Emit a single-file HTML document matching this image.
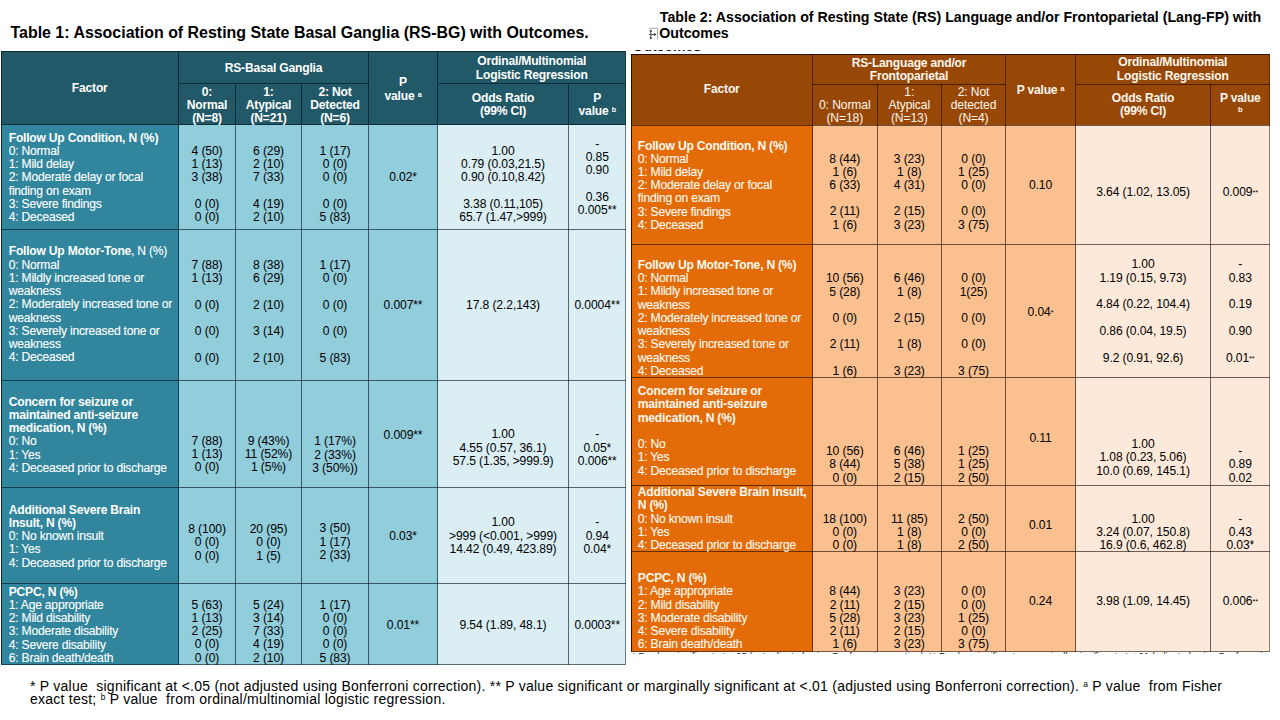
<!DOCTYPE html>
<html><head><meta charset="utf-8"><title>Tables</title>
<style>
html,body{margin:0;padding:0;background:#fff;}
body{width:1280px;height:720px;position:relative;overflow:hidden;font-family:"Liberation Sans",Arial,sans-serif;}
.r{position:absolute;box-sizing:border-box;}
.t{position:absolute;white-space:nowrap;}
.f{-webkit-text-stroke:0.12px currentColor;}
.f b{-webkit-text-stroke:0;}
.t.foot{white-space:normal;}
sup{font-size:0.6em;line-height:0;vertical-align:0.45em;}
sup.bs{vertical-align:0;font-size:0.62em;}
sup.fs{font-size:0.6em;vertical-align:0.5em;}
.sm{font-size:0.6em;vertical-align:0.2em;}
</style></head><body>
<div class="r" style="left:1px;top:51px;width:625px;height:73.5px;background:#215968"></div>
<div class="r" style="left:1px;top:124.5px;width:177.5px;height:540.5px;background:#31859C"></div>
<div class="r" style="left:178.5px;top:124.5px;width:259.0px;height:540.5px;background:#92CDDC"></div>
<div class="r" style="left:437.5px;top:124.5px;width:188.5px;height:540.5px;background:#DBEEF3"></div>
<div class="r" style="left:1px;top:124.0px;width:625px;height:1px;background:rgba(0,18,30,0.62)"></div>
<div class="r" style="left:1px;top:228.5px;width:625px;height:1px;background:rgba(0,18,30,0.62)"></div>
<div class="r" style="left:1px;top:380.0px;width:625px;height:1px;background:rgba(0,18,30,0.62)"></div>
<div class="r" style="left:1px;top:487.0px;width:625px;height:1px;background:rgba(0,18,30,0.62)"></div>
<div class="r" style="left:1px;top:583.0px;width:625px;height:1px;background:rgba(0,18,30,0.62)"></div>
<div class="r" style="left:178.5px;top:83.0px;width:190.0px;height:1px;background:rgba(0,18,30,0.62)"></div>
<div class="r" style="left:437.5px;top:83.0px;width:188.5px;height:1px;background:rgba(0,18,30,0.62)"></div>
<div class="r" style="left:178.0px;top:51px;width:1px;height:614px;background:rgba(0,18,30,0.62)"></div>
<div class="r" style="left:235.0px;top:83.5px;width:1px;height:581.5px;background:rgba(0,18,30,0.62)"></div>
<div class="r" style="left:301.0px;top:83.5px;width:1px;height:581.5px;background:rgba(0,18,30,0.62)"></div>
<div class="r" style="left:368.0px;top:51px;width:1px;height:614px;background:rgba(0,18,30,0.62)"></div>
<div class="r" style="left:437.0px;top:51px;width:1px;height:614px;background:rgba(0,18,30,0.62)"></div>
<div class="r" style="left:568.0px;top:83.5px;width:1px;height:581.5px;background:rgba(0,18,30,0.62)"></div>
<div class="r" style="left:1px;top:51px;width:625px;height:614px;border:1px solid #0e2a33;border-right-color:rgba(10,30,40,0.55);border-bottom-color:rgba(10,30,40,0.62)"></div>
<div class="r" style="left:631px;top:54px;width:639px;height:71px;background:#974806"></div>
<div class="r" style="left:631px;top:125px;width:181.5px;height:527px;background:#E36C09"></div>
<div class="r" style="left:812.5px;top:125px;width:263.0px;height:527px;background:#FAC090"></div>
<div class="r" style="left:1075.5px;top:125px;width:194.5px;height:527px;background:#FDE9D9"></div>
<div class="r" style="left:631px;top:124.5px;width:639px;height:1px;background:rgba(25,8,0,0.62)"></div>
<div class="r" style="left:631px;top:244.0px;width:639px;height:1px;background:rgba(25,8,0,0.62)"></div>
<div class="r" style="left:631px;top:377.2px;width:639px;height:1px;background:rgba(25,8,0,0.62)"></div>
<div class="r" style="left:631px;top:484.8px;width:639px;height:1px;background:rgba(25,8,0,0.62)"></div>
<div class="r" style="left:631px;top:550.8px;width:639px;height:1px;background:rgba(25,8,0,0.62)"></div>
<div class="r" style="left:812.5px;top:83.5px;width:193.0px;height:1px;background:rgba(25,8,0,0.62)"></div>
<div class="r" style="left:1075.5px;top:83.5px;width:194.5px;height:1px;background:rgba(25,8,0,0.62)"></div>
<div class="r" style="left:812.0px;top:54px;width:1px;height:598px;background:rgba(25,8,0,0.62)"></div>
<div class="r" style="left:876.5px;top:84px;width:1px;height:568px;background:rgba(25,8,0,0.62)"></div>
<div class="r" style="left:941.0px;top:84px;width:1px;height:568px;background:rgba(25,8,0,0.62)"></div>
<div class="r" style="left:1005.0px;top:54px;width:1px;height:598px;background:rgba(25,8,0,0.62)"></div>
<div class="r" style="left:1075.0px;top:54px;width:1px;height:598px;background:rgba(25,8,0,0.62)"></div>
<div class="r" style="left:1210.0px;top:84px;width:1px;height:568px;background:rgba(25,8,0,0.62)"></div>
<div class="r" style="left:631px;top:54px;width:639px;height:598px;border:1px solid #2a1000;border-right-color:rgba(40,20,10,0.5);border-bottom-color:rgba(40,20,10,0.6)"></div>
<div class="t " style="left:-10.25px;width:200px;text-align:center;top:82.48px;font-size:12.1px;line-height:13.25px;color:#ffffff;font-weight:bold;letter-spacing:-0.2px;">Factor</div>
<div class="t " style="left:173.50px;width:200px;text-align:center;top:61.98px;font-size:12.1px;line-height:13.25px;color:#ffffff;font-weight:bold;letter-spacing:-0.2px;">RS-Basal Ganglia</div>
<div class="t " style="left:107.00px;width:200px;text-align:center;top:85.71px;font-size:12.1px;line-height:13px;color:#ffffff;font-weight:bold;letter-spacing:-0.2px;">0:<br>Normal<br>(N=8)</div>
<div class="t " style="left:168.50px;width:200px;text-align:center;top:85.71px;font-size:12.1px;line-height:13px;color:#ffffff;font-weight:bold;letter-spacing:-0.2px;">1:<br>Atypical<br>(N=21)</div>
<div class="t " style="left:235.00px;width:200px;text-align:center;top:85.71px;font-size:12.1px;line-height:13px;color:#ffffff;font-weight:bold;letter-spacing:-0.2px;">2: Not<br>Detected<br>(N=6)</div>
<div class="t " style="left:303.00px;width:200px;text-align:center;top:75.16px;font-size:12.1px;line-height:14.1px;color:#ffffff;font-weight:bold;letter-spacing:-0.2px;">P<br>value <sup>a</sup></div>
<div class="t " style="left:431.75px;width:200px;text-align:center;top:54.36px;font-size:12.1px;line-height:14px;color:#ffffff;font-weight:bold;letter-spacing:-0.2px;">Ordinal/Multinomial<br>Logistic Regression</div>
<div class="t " style="left:403.00px;width:200px;text-align:center;top:92.01px;font-size:12.1px;line-height:13px;color:#ffffff;font-weight:bold;letter-spacing:-0.2px;">Odds Ratio<br>(99% CI)</div>
<div class="t " style="left:497.25px;width:200px;text-align:center;top:92.01px;font-size:12.1px;line-height:13px;color:#ffffff;font-weight:bold;letter-spacing:-0.2px;">P<br>value <sup>b</sup></div>
<div class="t f" style="left:8.75px;white-space:nowrap;top:131.53px;font-size:12.1px;line-height:13.25px;color:#ffffff;letter-spacing:-0.22px;"><b>Follow Up Condition, N (%)</b><br>0: Normal<br>1: Mild delay<br>2: Moderate delay or focal<br>finding on exam<br>3: Severe findings<br>4: Deceased</div>
<div class="t " style="left:107.00px;width:200px;text-align:center;top:144.78px;font-size:12.1px;line-height:13.25px;color:#000;letter-spacing:-0.1px;">4 (50)<br>1 (13)<br>3 (38)<br><br>0 (0)<br>0 (0)</div>
<div class="t " style="left:168.50px;width:200px;text-align:center;top:144.78px;font-size:12.1px;line-height:13.25px;color:#000;letter-spacing:-0.1px;">6 (29)<br>2 (10)<br>7 (33)<br><br>4 (19)<br>2 (10)</div>
<div class="t " style="left:235.00px;width:200px;text-align:center;top:144.78px;font-size:12.1px;line-height:13.25px;color:#000;letter-spacing:-0.1px;">1 (17)<br>0 (0)<br>0 (0)<br><br>0 (0)<br>5 (83)</div>
<div class="t " style="left:303.00px;width:200px;text-align:center;top:171.28px;font-size:12.1px;line-height:13.25px;color:#000;letter-spacing:-0.1px;">0.02*</div>
<div class="t " style="left:403.00px;width:200px;text-align:center;top:144.78px;font-size:12.1px;line-height:13.25px;color:#000;letter-spacing:-0.1px;">1.00<br>0.79 (0.03,21.5)<br>0.90 (0.10,8.42)<br><br>3.38 (0.11,105)<br>65.7 (1.47,&gt;999)</div>
<div class="t " style="left:497.25px;width:200px;text-align:center;top:137.78px;font-size:12.1px;line-height:13.25px;color:#000;letter-spacing:-0.1px;">-<br>0.85<br>0.90<br><br>0.36<br>0.005**</div>
<div class="t f" style="left:8.75px;white-space:nowrap;top:245.28px;font-size:12.1px;line-height:13.25px;color:#ffffff;letter-spacing:-0.22px;"><b>Follow Up Motor-Tone</b>, N (%)<br>0: Normal<br>1: Mildly increased tone or<br>weakness<br>2: Moderately increased tone or<br>weakness<br>3: Severely increased tone or<br>weakness<br>4: Deceased</div>
<div class="t " style="left:107.00px;width:200px;text-align:center;top:259.03px;font-size:12.1px;line-height:13.25px;color:#000;letter-spacing:-0.1px;">7 (88)<br>1 (13)<br><br>0 (0)<br><br>0 (0)<br><br>0 (0)</div>
<div class="t " style="left:168.50px;width:200px;text-align:center;top:259.03px;font-size:12.1px;line-height:13.25px;color:#000;letter-spacing:-0.1px;">8 (38)<br>6 (29)<br><br>2 (10)<br><br>3 (14)<br><br>2 (10)</div>
<div class="t " style="left:235.00px;width:200px;text-align:center;top:259.03px;font-size:12.1px;line-height:13.25px;color:#000;letter-spacing:-0.1px;">1 (17)<br>0 (0)<br><br>0 (0)<br><br>0 (0)<br><br>5 (83)</div>
<div class="t " style="left:303.00px;width:200px;text-align:center;top:298.78px;font-size:12.1px;line-height:13.25px;color:#000;letter-spacing:-0.1px;">0.007**</div>
<div class="t " style="left:403.00px;width:200px;text-align:center;top:298.78px;font-size:12.1px;line-height:13.25px;color:#000;letter-spacing:-0.1px;">17.8 (2.2,143)</div>
<div class="t " style="left:497.25px;width:200px;text-align:center;top:298.78px;font-size:12.1px;line-height:13.25px;color:#000;letter-spacing:-0.1px;">0.0004**</div>
<div class="t f" style="left:8.75px;white-space:nowrap;top:395.53px;font-size:12.1px;line-height:13.25px;color:#ffffff;letter-spacing:-0.22px;"><b>Concern for seizure or</b><br><b>maintained anti-seizure</b><br><b>medication, N (%)</b><br>0: No<br>1: Yes<br>4: Deceased prior to discharge</div>
<div class="t " style="left:107.00px;width:200px;text-align:center;top:434.78px;font-size:12.1px;line-height:13.25px;color:#000;letter-spacing:-0.1px;">7 (88)<br>1 (13)<br>0 (0)</div>
<div class="t " style="left:168.50px;width:200px;text-align:center;top:434.78px;font-size:12.1px;line-height:13.25px;color:#000;letter-spacing:-0.1px;">9 (43%)<br>11 (52%)<br>1 (5%)</div>
<div class="t " style="left:235.00px;width:200px;text-align:center;top:435.48px;font-size:12.1px;line-height:13.25px;color:#000;letter-spacing:-0.1px;">1 (17%)<br>2 (33%)<br>3 (50%))</div>
<div class="t " style="left:303.00px;width:200px;text-align:center;top:428.78px;font-size:12.1px;line-height:13.25px;color:#000;letter-spacing:-0.1px;">0.009**</div>
<div class="t " style="left:403.00px;width:200px;text-align:center;top:428.28px;font-size:12.1px;line-height:13.25px;color:#000;letter-spacing:-0.1px;">1.00<br>4.55 (0.57, 36.1)<br>57.5 (1.35, &gt;999.9)</div>
<div class="t " style="left:497.25px;width:200px;text-align:center;top:428.28px;font-size:12.1px;line-height:13.25px;color:#000;letter-spacing:-0.1px;">-<br>0.05*<br>0.006**</div>
<div class="t f" style="left:8.75px;white-space:nowrap;top:503.53px;font-size:12.1px;line-height:13.25px;color:#ffffff;letter-spacing:-0.22px;"><b>Additional Severe Brain</b><br><b>Insult, N (%)</b><br>0: No known insult<br>1: Yes<br>4: Deceased prior to discharge</div>
<div class="t " style="left:107.00px;width:200px;text-align:center;top:523.03px;font-size:12.1px;line-height:13.25px;color:#000;letter-spacing:-0.1px;">8 (100)<br>0 (0)<br>0 (0)</div>
<div class="t " style="left:168.50px;width:200px;text-align:center;top:523.03px;font-size:12.1px;line-height:13.25px;color:#000;letter-spacing:-0.1px;">20 (95)<br>0 (0)<br>1 (5)</div>
<div class="t " style="left:235.00px;width:200px;text-align:center;top:522.38px;font-size:12.1px;line-height:13.25px;color:#000;letter-spacing:-0.1px;">3 (50)<br>1 (17)<br>2 (33)</div>
<div class="t " style="left:303.00px;width:200px;text-align:center;top:529.58px;font-size:12.1px;line-height:13.25px;color:#000;letter-spacing:-0.1px;">0.03*</div>
<div class="t " style="left:403.00px;width:200px;text-align:center;top:516.38px;font-size:12.1px;line-height:13.25px;color:#000;letter-spacing:-0.1px;">1.00<br>&gt;999 (&lt;0.001, &gt;999)<br>14.42 (0.49, 423.89)</div>
<div class="t " style="left:497.25px;width:200px;text-align:center;top:516.38px;font-size:12.1px;line-height:13.25px;color:#000;letter-spacing:-0.1px;">-<br>0.94<br>0.04*</div>
<div class="t f" style="left:8.75px;white-space:nowrap;top:585.53px;font-size:12.1px;line-height:13.25px;color:#ffffff;letter-spacing:-0.22px;"><b>PCPC, N (%)</b><br>1: Age appropriate<br>2: Mild disability<br>3: Moderate disability<br>4: Severe disability<br>6: Brain death/death</div>
<div class="t " style="left:107.00px;width:200px;text-align:center;top:598.53px;font-size:12.1px;line-height:13.25px;color:#000;letter-spacing:-0.1px;">5 (63)<br>1 (13)<br>2 (25)<br>0 (0)<br>0 (0)</div>
<div class="t " style="left:168.50px;width:200px;text-align:center;top:598.53px;font-size:12.1px;line-height:13.25px;color:#000;letter-spacing:-0.1px;">5 (24)<br>3 (14)<br>7 (33)<br>4 (19)<br>2 (10)</div>
<div class="t " style="left:235.00px;width:200px;text-align:center;top:598.68px;font-size:12.1px;line-height:13.25px;color:#000;letter-spacing:-0.1px;">1 (17)<br>0 (0)<br>0 (0)<br>0 (0)<br>5 (83)</div>
<div class="t " style="left:303.00px;width:200px;text-align:center;top:618.58px;font-size:12.1px;line-height:13.25px;color:#000;letter-spacing:-0.1px;">0.01**</div>
<div class="t " style="left:403.00px;width:200px;text-align:center;top:618.58px;font-size:12.1px;line-height:13.25px;color:#000;letter-spacing:-0.1px;">9.54 (1.89, 48.1)</div>
<div class="t " style="left:497.25px;width:200px;text-align:center;top:618.58px;font-size:12.1px;line-height:13.25px;color:#000;letter-spacing:-0.1px;">0.0003**</div>
<div class="t " style="left:621.75px;width:200px;text-align:center;top:83.48px;font-size:12.1px;line-height:13.25px;color:#FFF6EE;font-weight:bold;letter-spacing:-0.2px;">Factor</div>
<div class="t " style="left:809.00px;width:200px;text-align:center;top:57.16px;font-size:12.1px;line-height:12.7px;color:#FFF6EE;font-weight:bold;letter-spacing:-0.2px;">RS-Language and/or<br>Frontoparietal</div>
<div class="t " style="left:744.75px;width:200px;text-align:center;top:98.81px;font-size:12.1px;line-height:13.1px;color:#FFF6EE;letter-spacing:-0.1px;">0: Normal<br>(N=18)</div>
<div class="t " style="left:809.25px;width:200px;text-align:center;top:85.66px;font-size:12.1px;line-height:13.1px;color:#FFF6EE;letter-spacing:-0.1px;">1:<br>Atypical<br>(N=13)</div>
<div class="t " style="left:873.50px;width:200px;text-align:center;top:85.66px;font-size:12.1px;line-height:13.1px;color:#FFF6EE;letter-spacing:-0.1px;">2: Not<br>detected<br>(N=4)</div>
<div class="t " style="left:940.50px;width:200px;text-align:center;top:83.73px;font-size:12.1px;line-height:13.25px;color:#FFF6EE;font-weight:bold;letter-spacing:-0.2px;">P value <sup>a</sup></div>
<div class="t " style="left:1072.75px;width:200px;text-align:center;top:56.36px;font-size:12.1px;line-height:13.5px;color:#FFF6EE;font-weight:bold;letter-spacing:-0.2px;">Ordinal/Multinomial<br>Logistic Regression</div>
<div class="t " style="left:1043.00px;width:200px;text-align:center;top:92.01px;font-size:12.1px;line-height:13px;color:#FFF6EE;font-weight:bold;letter-spacing:-0.2px;">Odds Ratio<br>(99% CI)</div>
<div class="t " style="left:1140.25px;width:200px;text-align:center;top:92.01px;font-size:12.1px;line-height:13px;color:#FFF6EE;font-weight:bold;letter-spacing:-0.2px;">P value</div>
<div class="t " style="left:1140.25px;width:200px;text-align:center;top:101.71px;font-size:12.1px;line-height:13px;color:#FFF6EE;font-weight:bold;letter-spacing:-0.2px;"><sup class="bs">b</sup></div>
<div class="t f" style="left:637.80px;white-space:nowrap;top:139.61px;font-size:12.1px;line-height:13.2px;color:#FFF9F2;letter-spacing:-0.22px;"><b>Follow Up Condition, N (%)</b><br>0: Normal<br>1: Mild delay<br>2: Moderate delay or focal<br>finding on exam<br>3: Severe findings<br>4: Deceased</div>
<div class="t " style="left:744.75px;width:200px;text-align:center;top:152.61px;font-size:12.1px;line-height:13.2px;color:#000;letter-spacing:-0.1px;">8 (44)<br>1 (6)<br>6 (33)<br><br>2 (11)<br>1 (6)</div>
<div class="t " style="left:809.25px;width:200px;text-align:center;top:152.61px;font-size:12.1px;line-height:13.2px;color:#000;letter-spacing:-0.1px;">3 (23)<br>1 (8)<br>4 (31)<br><br>2 (15)<br>3 (23)</div>
<div class="t " style="left:873.50px;width:200px;text-align:center;top:152.61px;font-size:12.1px;line-height:13.2px;color:#000;letter-spacing:-0.1px;">0 (0)<br>1 (25)<br>0 (0)<br><br>0 (0)<br>3 (75)</div>
<div class="t " style="left:940.50px;width:200px;text-align:center;top:179.41px;font-size:12.1px;line-height:13.2px;color:#000;letter-spacing:-0.1px;">0.10</div>
<div class="t " style="left:1043.00px;width:200px;text-align:center;top:186.01px;font-size:12.1px;line-height:13.2px;color:#000;letter-spacing:-0.1px;">3.64 (1.02, 13.05)</div>
<div class="t " style="left:1140.25px;width:200px;text-align:center;top:186.01px;font-size:12.1px;line-height:13.2px;color:#000;letter-spacing:-0.1px;">0.009<span class="sm">**</span></div>
<div class="t f" style="left:637.80px;white-space:nowrap;top:258.99px;font-size:12.1px;line-height:13.23px;color:#FFF9F2;letter-spacing:-0.22px;"><b>Follow Up Motor-Tone, N (%)</b><br>0: Normal<br>1: Mildly increased tone or<br>weakness<br>2: Moderately increased tone or<br>weakness<br>3: Severely increased tone or<br>weakness<br>4: Deceased</div>
<div class="t " style="left:744.75px;width:200px;text-align:center;top:272.29px;font-size:12.1px;line-height:13.23px;color:#000;letter-spacing:-0.1px;">10 (56)<br>5 (28)<br><br>0 (0)<br><br>2 (11)<br><br>1 (6)</div>
<div class="t " style="left:809.25px;width:200px;text-align:center;top:272.29px;font-size:12.1px;line-height:13.23px;color:#000;letter-spacing:-0.1px;">6 (46)<br>1 (8)<br><br>2 (15)<br><br>1 (8)<br><br>3 (23)</div>
<div class="t " style="left:873.50px;width:200px;text-align:center;top:272.29px;font-size:12.1px;line-height:13.23px;color:#000;letter-spacing:-0.1px;">0 (0)<br>1(25)<br><br>0 (0)<br><br>0 (0)<br><br>3 (75)</div>
<div class="t " style="left:940.50px;width:200px;text-align:center;top:305.51px;font-size:12.1px;line-height:13.2px;color:#000;letter-spacing:-0.1px;">0.04<span class="sm">*</span></div>
<div class="t " style="left:1043.00px;width:200px;text-align:center;top:258.46px;font-size:12.1px;line-height:13.3px;color:#000;letter-spacing:-0.1px;">1.00<br>1.19 (0.15, 9.73)<br><br>4.84 (0.22, 104.4)<br><br>0.86 (0.04, 19.5)<br><br>9.2 (0.91, 92.6)</div>
<div class="t " style="left:1140.25px;width:200px;text-align:center;top:258.46px;font-size:12.1px;line-height:13.3px;color:#000;letter-spacing:-0.1px;">-<br>0.83<br><br>0.19<br><br>0.90<br><br>0.01<span class="sm">**</span></div>
<div class="t f" style="left:637.80px;white-space:nowrap;top:384.97px;font-size:12.1px;line-height:13.28px;color:#FFF9F2;letter-spacing:-0.22px;"><b>Concern for seizure or</b><br><b>maintained anti-seizure</b><br><b>medication, N (%)</b><br><br>0: No<br>1: Yes<br>4: Deceased prior to discharge</div>
<div class="t " style="left:744.75px;width:200px;text-align:center;top:445.36px;font-size:12.1px;line-height:13.1px;color:#000;letter-spacing:-0.1px;">10 (56)<br>8 (44)<br>0 (0)</div>
<div class="t " style="left:809.25px;width:200px;text-align:center;top:445.36px;font-size:12.1px;line-height:13.1px;color:#000;letter-spacing:-0.1px;">6 (46)<br>5 (38)<br>2 (15)</div>
<div class="t " style="left:873.50px;width:200px;text-align:center;top:445.36px;font-size:12.1px;line-height:13.1px;color:#000;letter-spacing:-0.1px;">1 (25)<br>1 (25)<br>2 (50)</div>
<div class="t " style="left:940.50px;width:200px;text-align:center;top:432.01px;font-size:12.1px;line-height:13.2px;color:#000;letter-spacing:-0.1px;">0.11</div>
<div class="t " style="left:1043.00px;width:200px;text-align:center;top:438.18px;font-size:12.1px;line-height:13.25px;color:#000;letter-spacing:-0.1px;">1.00<br>1.08 (0.23, 5.06)<br>10.0 (0.69, 145.1)</div>
<div class="t " style="left:1140.25px;width:200px;text-align:center;top:445.36px;font-size:12.1px;line-height:13.1px;color:#000;letter-spacing:-0.1px;">-<br>0.89<br>0.02</div>
<div class="t f" style="left:637.80px;white-space:nowrap;top:486.21px;font-size:12.1px;line-height:13.2px;color:#FFF9F2;letter-spacing:-0.22px;"><b>Additional Severe Brain Insult,</b><br><b>N (%)</b><br>0: No known insult<br>1: Yes<br>4: Deceased prior to discharge</div>
<div class="t " style="left:744.75px;width:200px;text-align:center;top:513.01px;font-size:12.1px;line-height:13.0px;color:#000;letter-spacing:-0.1px;">18 (100)<br>0 (0)<br>0 (0)</div>
<div class="t " style="left:809.25px;width:200px;text-align:center;top:513.01px;font-size:12.1px;line-height:13.0px;color:#000;letter-spacing:-0.1px;">11 (85)<br>1 (8)<br>1 (8)</div>
<div class="t " style="left:873.50px;width:200px;text-align:center;top:513.01px;font-size:12.1px;line-height:13.0px;color:#000;letter-spacing:-0.1px;">2 (50)<br>0 (0)<br>2 (50)</div>
<div class="t " style="left:940.50px;width:200px;text-align:center;top:519.01px;font-size:12.1px;line-height:13.2px;color:#000;letter-spacing:-0.1px;">0.01</div>
<div class="t " style="left:1043.00px;width:200px;text-align:center;top:513.01px;font-size:12.1px;line-height:13.0px;color:#000;letter-spacing:-0.1px;">1.00<br>3.24 (0.07, 150.8)<br>16.9 (0.6, 462.8)</div>
<div class="t " style="left:1140.25px;width:200px;text-align:center;top:513.01px;font-size:12.1px;line-height:13.0px;color:#000;letter-spacing:-0.1px;">-<br>0.43<br>0.03*</div>
<div class="t f" style="left:637.80px;white-space:nowrap;top:572.11px;font-size:12.1px;line-height:13.2px;color:#FFF9F2;letter-spacing:-0.22px;"><b>PCPC, N (%)</b><br>1: Age appropriate<br>2: Mild disability<br>3: Moderate disability<br>4: Severe disability<br>6: Brain death/death</div>
<div class="t " style="left:744.75px;width:200px;text-align:center;top:585.41px;font-size:12.1px;line-height:13.2px;color:#000;letter-spacing:-0.1px;">8 (44)<br>2 (11)<br>5 (28)<br>2 (11)<br>1 (6)</div>
<div class="t " style="left:809.25px;width:200px;text-align:center;top:585.41px;font-size:12.1px;line-height:13.2px;color:#000;letter-spacing:-0.1px;">3 (23)<br>2 (15)<br>3 (23)<br>2 (15)<br>3 (23)</div>
<div class="t " style="left:873.50px;width:200px;text-align:center;top:585.41px;font-size:12.1px;line-height:13.2px;color:#000;letter-spacing:-0.1px;">0 (0)<br>0 (0)<br>1 (25)<br>0 (0)<br>3 (75)</div>
<div class="t " style="left:940.50px;width:200px;text-align:center;top:594.71px;font-size:12.1px;line-height:13.2px;color:#000;letter-spacing:-0.1px;">0.24</div>
<div class="t " style="left:1043.00px;width:200px;text-align:center;top:594.71px;font-size:12.1px;line-height:13.2px;color:#000;letter-spacing:-0.1px;">3.98 (1.09, 14.45)</div>
<div class="t " style="left:1140.25px;width:200px;text-align:center;top:594.71px;font-size:12.1px;line-height:13.2px;color:#000;letter-spacing:-0.1px;">0.006<span class="sm">**</span></div>
<div class="t " style="left:10.50px;white-space:nowrap;top:22.77px;font-size:15.95px;line-height:19px;color:#000;font-weight:bold;">Table 1: Association of Resting State Basal Ganglia (RS-BG) with Outcomes.</div>
<div class="t " style="left:659.80px;white-space:nowrap;top:9.28px;font-size:14.2px;line-height:16px;color:#000;font-weight:bold;">Table 2: Association of Resting State (RS) Language and/or Frontoparietal (Lang-FP) with</div>
<div class="t " style="left:659.30px;white-space:nowrap;top:25.48px;font-size:14.2px;line-height:16px;color:#000;font-weight:bold;">Outcomes</div>
<svg class="r" style="left:648px;top:27px" width="11" height="14" viewBox="0 0 11 14">
<path d="M1 1.3 H9.5 V12.6" fill="none" stroke="#a0a0a0" stroke-width="0.9"/>
<path d="M2.8 3.5 V11.5 M1 7.5 H6.8" stroke="#505050" stroke-width="1" fill="none"/>
<path d="M1.2 4.6 L2.8 2.4 L4.4 4.6 Z M1.2 10.4 L2.8 12.6 L4.4 10.4 Z M6.2 5.8 L8.4 7.5 L6.2 9.2 Z" fill="#333"/>
</svg>
<div class="r" style="left:630px;top:49.6px;width:80px;height:1.6px;overflow:hidden"><div class="t" style="left:2.5px;top:-11.3px;font-size:14px;line-height:16px;font-weight:bold;color:#111;white-space:nowrap">Outcomes</div></div>
<div class="r" style="left:631px;top:652.3px;width:637px;height:2px;overflow:hidden"><div class="t" style="left:1px;top:-1px;font-size:9.5px;line-height:10px;color:#222;white-space:nowrap">* P value significant at &lt;.05 (not adjusted using Bonferroni correction). ** P value significant or marginally significant at &lt;.01 (adjusted using Bonferroni correction). P value from Fisher exact test</div></div>
<div class="t" style="left:30px;top:679.60px;font-size:14px;line-height:12.9px;letter-spacing:0.245px;color:#000">* P value&nbsp; significant at &lt;.05 (not adjusted using Bonferroni correction). ** P value significant or marginally significant at &lt;.01 (adjusted using Bonferroni correction). <sup class="fs">a</sup> P value&nbsp; from Fisher<br>exact test; <sup class="fs">b</sup> P value&nbsp; from ordinal/multinomial logistic regression.</div>
</body></html>
